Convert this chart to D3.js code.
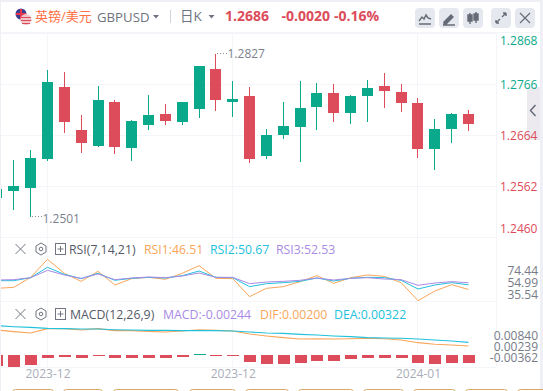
<!DOCTYPE html>
<html><head><meta charset="utf-8">
<script src="https://cdnjs.cloudflare.com/ajax/libs/d3/7.8.5/d3.min.js"></script>
<style>
html,body{margin:0;padding:0;background:#fff;overflow:hidden}
svg{display:block}
text{font-family:"Open Sans","Noto Sans CJK SC",sans-serif}
</style></head><body><svg id="c" width="543" height="391"></svg>
<script>
// ---------- data ----------
const opens  = [1.2539,1.2553,1.2559,1.2617,1.2761,1.2675,1.2643,1.2731,1.2639,1.2685,1.2707,1.2691,1.2717,1.2797,1.2731,1.2743,1.2623,1.2665,1.2681,1.2721,1.2749,1.2709,1.2743,1.2763,1.2751,1.2729,1.2637,1.2677,1.2707];
const closes = [1.2557,1.2563,1.2619,1.2771,1.2690,1.2649,1.2735,1.2641,1.2693,1.2705,1.2693,1.2731,1.2803,1.2735,1.2737,1.2617,1.2665,1.2683,1.2719,1.2749,1.2709,1.2743,1.2759,1.2753,1.2729,1.2637,1.2677,1.2707,1.2686];
const highs  = [1.2557,1.2615,1.2635,1.2795,1.2791,1.2705,1.2763,1.2735,1.2695,1.2745,1.2727,1.2731,1.2803,1.2827,1.2773,1.2761,1.2677,1.2731,1.2773,1.2769,1.2767,1.2745,1.2775,1.2789,1.2767,1.2739,1.2697,1.2709,1.2715];
const lows   = [1.2539,1.2515,1.2501,1.2613,1.2669,1.2629,1.2641,1.2627,1.2613,1.2675,1.2685,1.2685,1.2699,1.2713,1.2701,1.2609,1.2617,1.2657,1.2611,1.2675,1.2691,1.2687,1.2691,1.2719,1.2711,1.2619,1.2595,1.2649,1.2673];
const rsi1 = [47.55,48.45,57.43,73.61,61.03,53.84,62.82,50.54,56.24,57.43,55.64,61.03,67.91,56.54,56.24,40.06,47.55,49.05,53.54,58.93,52.04,57.13,59.53,58.33,52.64,36.47,45.15,50.84,46.51];
const rsi2 = [54.44,54.44,57.13,66.42,60.13,56.24,61.03,54.74,56.53,57.43,56.83,58.93,63.12,57.43,57.13,49.05,51.74,52.64,53.84,56.83,54.14,56.53,57.43,57.13,54.74,46.95,50.54,52.64,50.67];
const rsi3 = [55.04,55.34,57.13,63.72,59.53,56.53,60.43,55.34,56.83,57.73,57.13,58.63,61.33,57.43,57.43,51.74,53.24,53.84,54.74,56.83,55.04,56.53,57.13,55.94,55.34,50.25,52.34,53.54,52.53];
const dif  = [.00733,.00678,.00633,.00778,.00778,.00733,.00778,.00711,.00711,.00689,.00667,.007,.00744,.00722,.007,.006,.00533,.00478,.00433,.00444,.00433,.00444,.00456,.00444,.004,.00311,.00256,.00233,.002];
const dea  = [.00878,.00844,.00822,.00789,.00778,.00767,.00767,.00744,.00733,.00722,.00722,.00711,.00711,.00711,.007,.00667,.00633,.00622,.00589,.00567,.00533,.00511,.00478,.00467,.00456,.00433,.004,.00367,.00322];
const macd = [-.0035,-.0038,-.00317,-.00085,-.00053,-.00085,-.00032,-.00095,-.00095,-.00095,-.00095,-.00064,.0003,-.0002,-.0002,-.00222,-.00286,-.00275,-.00254,-.0019,-.0019,-.00127,-.00095,-.00095,-.00095,-.00254,-.00286,-.00244,-.00244];
const priceTicks = [1.2868,1.2766,1.2664,1.2562,1.2460];
const rsiTicks = [74.44,54.99,35.54];
const macdTicks = [0.00840,0.00239,-0.00362];
const dateLabels = [[3,"2023-12"],[14,"2023-12"],[25,"2024-01"]];
const lastClose = 1.2686;
const highLabel = "1.2827", lowLabel = "1.2501";
const headerQuote = ["1.2686","-0.0020","-0.16%"];

// ---------- colours ----------
const UP="#0aa98c", DOWN="#dc4c5a", O="#f9a65a", C="#22c1dc", P="#a98be6", GRID="#f4f5f9";

const svg=d3.select("#c");
const idx=d3.range(closes.length);
const x=d3.scaleLinear().domain([0,28]).range([-3.02,468.5]);
const px=i=>Math.floor(x(i))+0.5;
const y=d3.scaleLinear().domain([1.2460,1.2868]).range([237,33]);
const yRsi=d3.scaleLinear().domain([35.54,74.44]).range([301.7,258.4]);
const yLine=d3.scaleLinear().domain([0.002,0.00322]).range([346,342.34]);
const yBar=d3.scaleLinear().domain([-0.00244,0]).range([362.7,355]);

// page frame
svg.append("rect").attr("width",543).attr("height",391).attr("fill","#eef0f5");
svg.append("rect").attr("x",1).attr("y",2).attr("width",539).attr("height",389).attr("fill","#fff");

// grid
const g=svg.append("g").attr("shape-rendering","crispEdges").attr("stroke",GRID);
[...priceTicks.map(y),301.7,367].forEach(v=>g.append("line").attr("x1",1).attr("x2",496).attr("y1",Math.floor(v)+.5).attr("y2",Math.floor(v)+.5));
g.append("line").attr("x1",1).attr("x2",540).attr("y1",32.5).attr("y2",32.5);
dateLabels.forEach(d=>g.append("line").attr("x1",px(d[0])).attr("x2",px(d[0])).attr("y1",33).attr("y2",367));
g.append("line").attr("x1",496.5).attr("x2",496.5).attr("y1",33).attr("y2",367);

// collapse tab (behind the axis labels)
svg.append("rect").attr("x",527).attr("y",87).attr("width",13).attr("height",53).attr("fill","#eceaef");
svg.append("path").attr("d","M535.5 105l-5 5.5 5 5.5").attr("fill","none").attr("stroke","#666b78").attr("stroke-width",1.5);

// clip
svg.append("defs").append("clipPath").attr("id","pl").append("rect").attr("x",1).attr("y",33).attr("width",495).attr("height",334);
const plot=svg.append("g").attr("clip-path","url(#pl)");

// candles
const col=i=>closes[i]>=opens[i]?UP:DOWN;
const cg=plot.append("g").attr("shape-rendering","crispEdges");
cg.selectAll("line").data(idx).join("line").attr("x1",px).attr("x2",px)
  .attr("y1",i=>y(highs[i])).attr("y2",i=>y(lows[i])).attr("stroke",col);
cg.selectAll("rect").data(idx).join("rect").attr("x",i=>px(i)-5.5).attr("width",11)
  .attr("y",i=>y(Math.max(opens[i],closes[i]))).attr("height",i=>Math.abs(y(opens[i])-y(closes[i])))
  .attr("fill",col);

// high / low labels
const hi=d3.scan(highs,(a,b)=>b-a), lo=d3.scan(lows);
function mark(i,val,txt,dy){
  svg.append("line").attr("x1",px(i)+1).attr("x2",px(i)+11).attr("y1",y(val)-.5).attr("y2",y(val)-.5)
    .attr("stroke","#8a8f9c").attr("stroke-dasharray","1 2").attr("shape-rendering","crispEdges");
  svg.append("text").attr("x",px(i)+12).attr("y",y(val)+dy).attr("font-size",12).attr("fill","#7c818d").text(txt);
}
mark(hi,highs[hi],highLabel,4.5);
mark(lo,lows[lo],lowLabel,6.5);

// RSI and MACD lines
const lineOf=(sc)=>d3.line().x((d,i)=>x(i)).y(d=>sc(d));
[[rsi1,O],[rsi2,C],[rsi3,P]].forEach(([d,c])=>plot.append("path").attr("d",lineOf(yRsi)(d)).attr("fill","none").attr("stroke",c).attr("stroke-width",1));
[[dif,O],[dea,C]].forEach(([d,c])=>plot.append("path").attr("d",lineOf(yLine)(d)).attr("fill","none").attr("stroke",c).attr("stroke-width",1.1));
plot.append("g").attr("shape-rendering","crispEdges").selectAll("rect").data(macd).join("rect")
  .attr("x",(d,i)=>px(i)-6).attr("width",12)
  .attr("y",d=>Math.min(yBar(d),yBar(0))).attr("height",d=>Math.max(1,Math.abs(yBar(d)-yBar(0))))
  .attr("fill",d=>d>=0?UP:DOWN);

// price axis
const clampY=v=>Math.max(41,Math.min(229,v));
const pa=svg.append("g").attr("transform","translate(500,0)")
  .call(d3.axisRight(y).tickValues(priceTicks).tickSize(0).tickPadding(0).tickFormat(d3.format(".4f")));
pa.select(".domain").remove();
pa.selectAll(".tick").attr("transform",d=>`translate(0,${clampY(y(d)+1)})`);
pa.selectAll("text").attr("font-size",12).attr("font-family",null).attr("fill",d=>d>lastClose?UP:DOWN);

// RSI / MACD axis labels (stacked in the pane, independent of the line scale)
const rsiPos=d3.scalePoint().domain(rsiTicks).range([271,294.3]);
const ra=svg.append("g").attr("transform","translate(538,0)")
  .call(d3.axisLeft(rsiPos).tickSize(0).tickPadding(0).tickFormat(d3.format(".2f")));
ra.select(".domain").remove();
ra.selectAll("text").attr("font-size",12).attr("font-family",null).attr("fill","#767b87");
const macdPos=d3.scalePoint().domain(macdTicks).range([336,358]);
const ma=svg.append("g").attr("transform","translate(538,0)")
  .call(d3.axisLeft(macdPos).tickSize(0).tickPadding(0).tickFormat(d3.format(".5f")));
ma.select(".domain").remove();
ma.selectAll("text").attr("font-size",12).attr("font-family",null).attr("fill","#767b87").text(d=>d3.format(".5f")(d).replace("−","-"));

// date axis
const da=svg.append("g").attr("transform","translate(0,369)")
  .call(d3.axisBottom(x).tickValues(dateLabels.map(d=>d[0])).tickSize(0).tickPadding(0).tickFormat(d=>dateLabels.find(e=>e[0]===d)[1]));
da.select(".domain").remove();
da.selectAll("text").attr("font-size",12).attr("font-family",null).attr("fill","#a9adba");

// header
function T(xp,yp,t,size,fill,weight){return svg.append("text").attr("x",xp).attr("y",yp).attr("font-size",size).attr("fill",fill).attr("font-weight",weight||400).text(t);}
// flag
const fl=svg.append("g");
fl.append("circle").attr("cx",21).attr("cy",14).attr("r",5.5).attr("fill","#3b3f8f");
fl.append("path").attr("d","M16 14h10M21 9v10").attr("stroke","#e8364f").attr("stroke-width",2);
fl.append("circle").attr("cx",26).attr("cy",19.5).attr("r",5.5).attr("fill","#f3c6c9");
fl.append("path").attr("d","M21 17.5h10M20.7 20.5h10.6M22 23.5h8").attr("stroke","#dc4c5a").attr("stroke-width",1.2);
T(35,20.5,"英镑/美元",13,"#ff7043");
T(97,22,"GBPUSD",13.2,"#6e7380");
const tri=(cx,cy)=>svg.append("path").attr("d",`M${cx-3} ${cy-2}h6l-3 3.5z`).attr("fill","#6e7380");
tri(156,17); tri(211.5,17);
svg.append("line").attr("x1",170.5).attr("x2",170.5).attr("y1",10).attr("y2",23).attr("stroke","#cfd3dc");
T(180,20.5,"日K",13.5,"#6e7380");
T(225,21,headerQuote[0],14,DOWN,700);
T(281.5,21,headerQuote[1],14,DOWN,700);
T(334,21,headerQuote[2],14,DOWN,700);

// buttons
const btnX=[415,439,463,491,515];
const btnIcons=[
 "M4 13l3-4 2 2 2-4 2 3 3 1M4 16h12",
 "M5 14l7-7 2 2-7 7h-2zM4 17h12",
 "M7 5v11M13 4v11M5 7h4v6h-4zM11 6h4v6h-4z",
 "M5 15l4-4M11 9l4-4M5 15h3M5 15v-3M15 5h-3M15 5v3",
 "M5 5l10 10M15 5l-10 10"];
btnX.forEach((bx,i)=>{
  const b=svg.append("g").attr("transform",`translate(${bx},8)`);
  b.append("rect").attr("width",20).attr("height",20).attr("rx",4).attr("fill","#e6e8ef");
  b.append("path").attr("d",btnIcons[i]).attr("fill",i==1||i==2?"#666b78":"none").attr("stroke","#666b78").attr("stroke-width",i==4?1.2:1.4);
});

// indicator headers
function head(yc){
  const a=svg.append("g").attr("stroke","#70757f").attr("fill","none");
  a.append("path").attr("d",`M15.5 ${yc-5}l10 10M25.5 ${yc-5}l-10 10`);
  a.append("path").attr("d",`M41 ${yc-6}l5 3v6l-5 3-5-3v-6z`);
  a.append("circle").attr("cx",41).attr("cy",yc).attr("r",1.8);
  a.append("rect").attr("x",55.5).attr("y",yc-5.5).attr("width",10).attr("height",11);
  a.append("path").attr("d",`M57.5 ${yc}h6M60.5 ${yc-3}v6`);
}
head(249); head(314);
T(69,254,"RSI(7,14,21)",12.3,"#555a66");
T(144,254,"RSI1:46.51",12.3,O);
T(210,254,"RSI2:50.67",12.3,C);
T(276,254,"RSI3:52.53",12.3,P);
T(70,319,"MACD(12,26,9)",12.3,"#555a66");
T(163,319,"MACD:-0.00244",12.3,P);
T(260,319,"DIF:0.00200",12.3,O);
T(334,319,"DEA:0.00322",12.3,C);

// strip of tag outlines cut by the bottom edge
const tagEdges=[[12,41],[63,39],[113,65],[189,46],[245,43],[298,55],[363,40],[413,42],[465,42],[517,30]];
svg.append("g").selectAll("rect").data(tagEdges).join("rect")
  .attr("x",d=>d[0]+.5).attr("y",389.5).attr("width",d=>d[1]).attr("height",12).attr("rx",3)
  .attr("fill","#fff").attr("stroke","#d9a968");
</script></body></html>
